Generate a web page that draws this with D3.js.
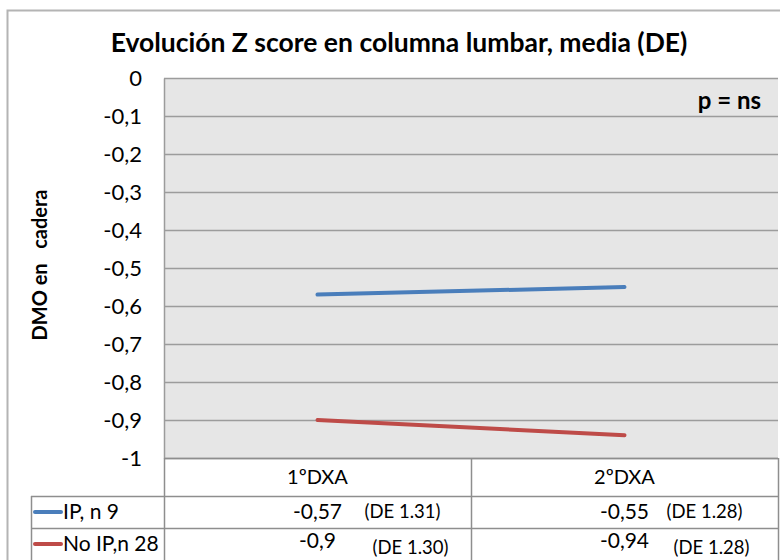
<!DOCTYPE html>
<html>
<head>
<meta charset="utf-8">
<script src="https://cdn.jsdelivr.net/npm/d3@7"></script>
<style>
  html, body { margin: 0; padding: 0; background: #fff; }
  svg { display: block; font-family: Lato, "Liberation Sans", sans-serif; }
</style>
</head>
<body>
<svg id="chart" width="780" height="560"></svg>
<script>
// Chart data
const categories = ["1ºDXA", "2ºDXA"];
const seriesNames = ["IP, n 9", "No IP,n 28"];
const ipValues = [-0.57, -0.55];
const noIpValues = [-0.9, -0.94];
const ipDE = ["(DE 1.31)", "(DE 1.28)"];
const noIpDE = ["(DE 1.30)", "(DE 1.28)"];
const seriesColors = ["#4a7ebb", "#be4b48"];
const yTicks = [0, -0.1, -0.2, -0.3, -0.4, -0.5, -0.6, -0.7, -0.8, -0.9, -1];

const series = [
  { name: seriesNames[0], values: ipValues, de: ipDE, color: seriesColors[0] },
  { name: seriesNames[1], values: noIpValues, de: noIpDE, color: seriesColors[1] }
];

const svg = d3.select("#chart");
const plot = { left: 164, right: 778, top: 78, bottom: 458 };
const rowTops = [458, 496, 528, 562];
const keyLeft = 31;
const gridColor = "#9c9c9c";
const tableColor = "#8e8e8e";

const x = d3.scaleBand().domain(categories).range([plot.left, plot.right]);
const y = d3.scaleLinear().domain([-1, 0]).range([plot.bottom, plot.top]);
const fmt = v => String(v).replace(".", ",");

// Chart border
svg.append("path")
  .attr("d", `M7.5,570 V10.5 H790`)
  .attr("fill", "none").attr("stroke", "#b4b4b4").attr("stroke-width", 2);

// Title
svg.append("text")
  .attr("x", 399).attr("y", 52)
  .attr("text-anchor", "middle")
  .attr("font-size", 26.5).attr("font-weight", 700).attr("fill", "#000")
  .text("Evolución Z score en columna lumbar, media (DE)");

// Plot background
svg.append("rect")
  .attr("x", plot.left).attr("y", plot.top)
  .attr("width", plot.right - plot.left).attr("height", plot.bottom - plot.top)
  .attr("fill", "#e6e6e6");

// Horizontal gridlines
svg.append("g")
  .selectAll("line").data(yTicks).join("line")
  .attr("x1", plot.left).attr("x2", plot.right)
  .attr("y1", d => Math.round(y(d)) + 0.5).attr("y2", d => Math.round(y(d)) + 0.5)
  .attr("stroke", gridColor).attr("stroke-width", 1.5);

// Y axis with tick labels
const yAxis = d3.axisLeft(y).tickValues(yTicks).tickFormat(fmt).tickSize(0).tickPadding(22);
const yg = svg.append("g").attr("transform", `translate(${plot.left},0)`).call(yAxis);
yg.select(".domain").attr("stroke", gridColor).attr("stroke-width", 1.5);
yg.selectAll("text")
  .attr("font-family", "Lato, 'Liberation Sans', sans-serif")
  .attr("font-size", 22).attr("fill", "#000");

// Y axis title (double space kept with a no-break space)
svg.append("text")
  .attr("transform", "translate(47,265) rotate(-90)")
  .attr("text-anchor", "middle")
  .attr("font-size", 20).attr("font-weight", 700).attr("fill", "#000")
  .text("DMO en\u00a0\u00a0 cadera");

// p value note
svg.append("text")
  .attr("x", 761).attr("y", 109)
  .attr("text-anchor", "end")
  .attr("font-size", 24).attr("font-weight", 700).attr("fill", "#000")
  .text("p = ns");

// Series lines
const line = d3.line()
  .x((d, i) => x(categories[i]) + x.bandwidth() / 2)
  .y(d => y(d));

svg.append("g")
  .selectAll("path").data(series).join("path")
  .attr("d", d => line(d.values))
  .attr("fill", "none")
  .attr("stroke", d => d.color)
  .attr("stroke-width", 4)
  .attr("stroke-linecap", "round");

// Data table grid
const tg = svg.append("g").attr("stroke", tableColor).attr("stroke-width", 1.5);
tg.append("line").attr("x1", plot.left).attr("x2", plot.right)
  .attr("y1", rowTops[0] + 0.5).attr("y2", rowTops[0] + 0.5);
[rowTops[1], rowTops[2]].forEach(r => {
  tg.append("line").attr("x1", keyLeft).attr("x2", plot.right)
    .attr("y1", r + 0.5).attr("y2", r + 0.5);
});
tg.append("line").attr("x1", keyLeft + 0.5).attr("x2", keyLeft + 0.5)
  .attr("y1", rowTops[1]).attr("y2", 560);
tg.selectAll("line.col").data(categories).join("line")
  .attr("class", "col")
  .attr("x1", d => Math.round(x(d)) + 0.5).attr("x2", d => Math.round(x(d)) + 0.5)
  .attr("y1", rowTops[0]).attr("y2", 560);
tg.append("line").attr("x1", plot.right + 0.5).attr("x2", plot.right + 0.5)
  .attr("y1", rowTops[0]).attr("y2", 560);

// Category labels
svg.append("g")
  .selectAll("text").data(categories).join("text")
  .attr("x", d => x(d) + x.bandwidth() / 2)
  .attr("y", (rowTops[0] + rowTops[1]) / 2 + 7)
  .attr("text-anchor", "middle")
  .attr("font-size", 20).attr("fill", "#000")
  .text(d => d);

// Series rows: legend key, values and DE notes
const deOffsets = [[47, 42], [55, 49]];
const valueShift = [0, -3];
const deShift = [0, 4];
series.forEach((s, si) => {
  const top = rowTops[si + 1], bottom = rowTops[si + 2];
  const cy = (top + Math.min(bottom, 560)) / 2;
  const g = svg.append("g");
  g.append("line")
    .attr("x1", 35).attr("x2", 61)
    .attr("y1", cy).attr("y2", cy)
    .attr("stroke", s.color).attr("stroke-width", 4).attr("stroke-linecap", "round");
  g.append("text")
    .attr("x", 63).attr("y", cy + 7)
    .attr("font-size", 21).attr("fill", "#000")
    .text(s.name);
  g.selectAll("text.val").data(s.values).join("text")
    .attr("class", "val")
    .attr("x", (d, i) => x(categories[i]) + x.bandwidth() / 2)
    .attr("y", cy + 7 + valueShift[si])
    .attr("text-anchor", "middle")
    .attr("font-size", 21).attr("fill", "#000")
    .text(d => fmt(d));
  g.selectAll("text.de").data(s.de).join("text")
    .attr("class", "de")
    .attr("x", (d, i) => x(categories[i]) + x.bandwidth() / 2 + deOffsets[si][i])
    .attr("y", cy + 6 + deShift[si])
    .attr("font-size", 18.5).attr("fill", "#000")
    .text(d => d);
});
</script>
</body>
</html>
